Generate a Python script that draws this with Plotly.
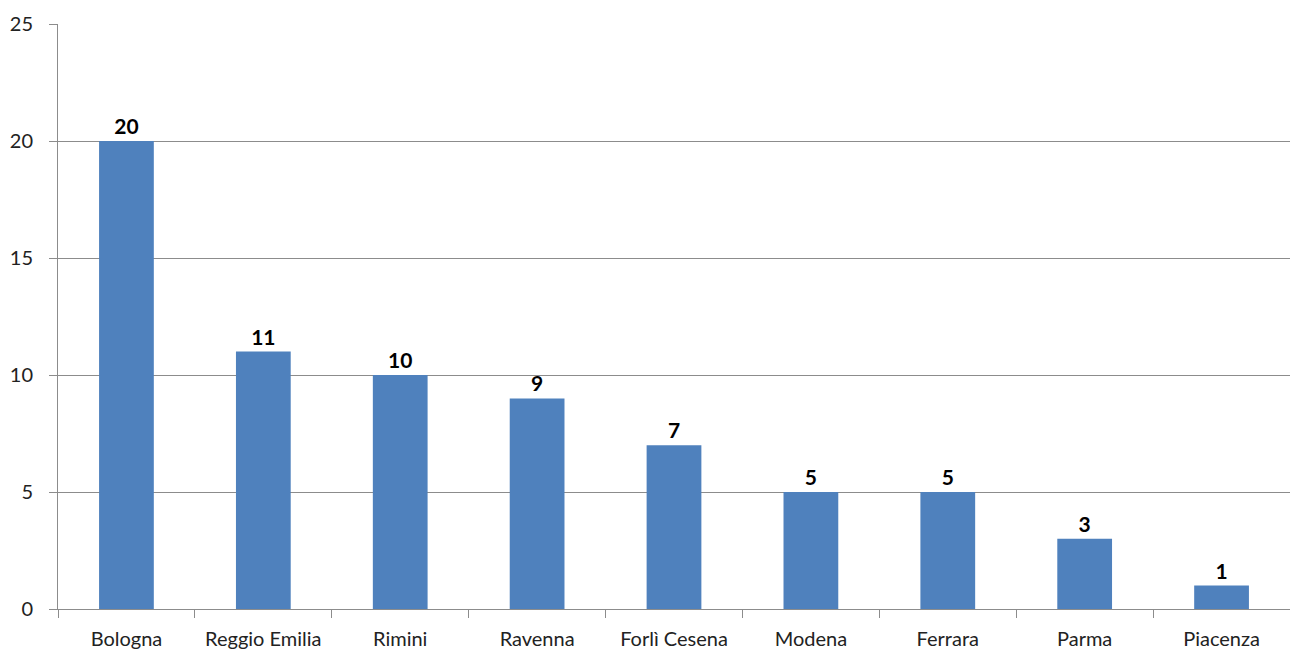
import plotly.graph_objects as go

categories = ["Bologna", "Reggio Emilia", "Rimini", "Ravenna", "Forlì Cesena",
              "Modena", "Ferrara", "Parma", "Piacenza"]
values = [20, 11, 10, 9, 7, 5, 5, 3, 1]
y_ticks = [0, 5, 10, 15, 20, 25]

font_family = "Lato, 'Open Sans', 'Liberation Sans', sans-serif"
grid_col = "#8c8c8c"

fig = go.Figure(go.Bar(
    x=categories, y=values,
    marker=dict(color="#4F81BD", line=dict(width=0)),
    width=0.4,
    text=[str(v) for v in values],
    texttemplate="<b>%{text}</b>",
    textposition="outside",
    textfont=dict(family=font_family, size=21, color="#000000"),
    cliponaxis=False,
))

fig.update_layout(
    width=1290, height=654,
    margin=dict(l=58, r=0, t=24, b=45, autoexpand=False),
    paper_bgcolor="white", plot_bgcolor="white",
    showlegend=False,
    font=dict(family=font_family, size=20, color="#222222"),
    bargap=0.6,
)
fig.update_yaxes(
    range=[0, 25], tickvals=y_ticks,
    showgrid=True, gridcolor=grid_col, gridwidth=1,
    showline=True, linecolor=grid_col, linewidth=1,
    ticks="outside", ticklen=8, tickcolor=grid_col,
    ticklabelstandoff=12,
    tickfont=dict(size=20, color="#222222"),
    zeroline=False,
)
fig.update_xaxes(
    showline=True, linecolor=grid_col, linewidth=1,
    ticks="outside", tickson="boundaries", ticklen=8, tickcolor=grid_col,
    ticklabelstandoff=12,
    tickfont=dict(size=20, color="#222222"),
    showgrid=False,
)
fig.write_html("out.html", config={"displayModeBar": False},
               post_script="document.body.style.margin='0';document.body.style.overflow='hidden';")
